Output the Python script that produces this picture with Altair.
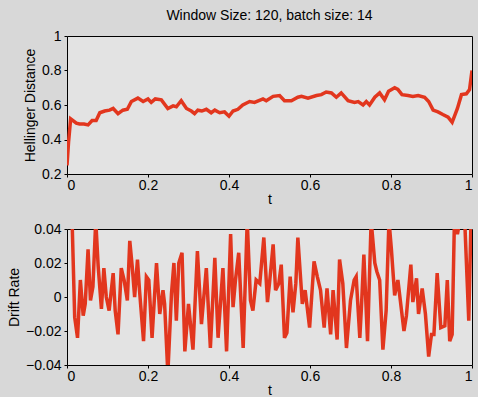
import altair as alt
import pandas as pd

# Top panel: Hellinger distance
h_t = [0, 0.004, 0.009, 0.015, 0.023, 0.031, 0.042, 0.052, 0.062, 0.072, 0.081, 0.093,
       0.105, 0.114, 0.126, 0.138, 0.149, 0.159, 0.175, 0.188, 0.2, 0.208, 0.218, 0.233,
       0.249, 0.262, 0.270, 0.282, 0.295, 0.307, 0.315, 0.323, 0.333, 0.344, 0.356, 0.365,
       0.377, 0.389, 0.4, 0.410, 0.422, 0.434, 0.451, 0.463, 0.484, 0.492, 0.509, 0.525,
       0.537, 0.554, 0.570, 0.579, 0.595, 0.616, 0.628, 0.640, 0.653, 0.665, 0.677, 0.694,
       0.710, 0.719, 0.731, 0.739, 0.747, 0.760, 0.772, 0.784, 0.794, 0.809, 0.817, 0.827,
       0.842, 0.854, 0.867, 0.883, 0.893, 0.904, 0.916, 0.928, 0.941, 0.951, 0.964, 0.974,
       0.986, 0.994, 1.0]
h_v = [0.25, 0.39, 0.52, 0.51, 0.495, 0.49, 0.49, 0.485, 0.51, 0.51, 0.555, 0.565,
       0.57, 0.58, 0.55, 0.57, 0.575, 0.62, 0.64, 0.62, 0.635, 0.615, 0.635, 0.63,
       0.58, 0.595, 0.59, 0.625, 0.58, 0.565, 0.55, 0.57, 0.565, 0.575, 0.555, 0.57,
       0.555, 0.56, 0.535, 0.565, 0.575, 0.60, 0.62, 0.615, 0.635, 0.625, 0.65, 0.655,
       0.625, 0.625, 0.645, 0.65, 0.64, 0.655, 0.66, 0.675, 0.67, 0.645, 0.67, 0.625,
       0.615, 0.62, 0.60, 0.62, 0.60, 0.645, 0.67, 0.63, 0.68, 0.70, 0.69, 0.66,
       0.655, 0.65, 0.655, 0.645, 0.62, 0.57, 0.56, 0.545, 0.53, 0.50, 0.58, 0.66,
       0.665, 0.69, 0.80]

# Bottom panel: drift rate
d_t = [0.012, 0.019, 0.026, 0.033, 0.040, 0.045, 0.052, 0.058, 0.064, 0.071, 0.077, 0.085,
       0.091, 0.097, 0.104, 0.114, 0.119, 0.126, 0.134, 0.141, 0.149, 0.155, 0.161, 0.167,
       0.174, 0.179, 0.189, 0.196, 0.202, 0.210, 0.221, 0.229, 0.237, 0.241, 0.249, 0.258,
       0.264, 0.270, 0.276, 0.284, 0.291, 0.300, 0.311, 0.322, 0.332, 0.344, 0.354, 0.365,
       0.373, 0.385, 0.394, 0.404, 0.410, 0.416, 0.424, 0.435, 0.445, 0.453, 0.459, 0.467,
       0.476, 0.486, 0.495, 0.500, 0.509, 0.515, 0.523, 0.529, 0.537, 0.543, 0.551, 0.558,
       0.565, 0.570, 0.581, 0.588, 0.599, 0.610, 0.618, 0.626, 0.635, 0.642, 0.651, 0.657,
       0.667, 0.673, 0.681, 0.690, 0.700, 0.709, 0.714, 0.723, 0.727, 0.733, 0.742, 0.751,
       0.760, 0.765, 0.772, 0.780, 0.788, 0.795, 0.801, 0.809, 0.817, 0.826, 0.832, 0.838,
       0.849, 0.854, 0.863, 0.868, 0.877, 0.885, 0.893, 0.900, 0.906, 0.914, 0.923, 0.933,
       0.939, 0.945, 0.951, 0.957, 0.964, 0.974, 0.982, 0.992, 0.998]
d_v = [0.05, -0.012, -0.024, 0.01, -0.011, -0.004, 0.028, -0.002, 0.006, 0.045, 0.018, -0.007,
       0.017, 0, -0.008, 0.014, -0.008, -0.022, 0.017, 0.01, -0.002, 0.033, 0.018, 0,
       0.022, 0.004, -0.026, 0.012, 0.01, -0.024, 0.02, -0.01, 0.004, -0.004, -0.045, 0.002,
       0.02, -0.014, 0.02, 0.026, -0.032, -0.004, -0.031, 0.027, -0.016, 0.017, -0.03, 0.023,
       -0.024, 0.017, -0.032, 0.037, -0.006, 0.01, 0.026, -0.03, 0.045, -0.002, -0.008, 0.01,
       0.008, 0.035, -0.003, 0.008, 0.031, 0.004, 0.008, 0.019, -0.024, -0.021, 0.012, -0.009,
       0.008, 0.035, -0.004, 0.004, -0.018, 0.021, 0.012, 0.004, -0.018, 0.005, -0.022, 0.004,
       -0.025, 0.022, 0.008, -0.03, -0.002, 0.01, 0.012, -0.024, -0.006, 0.025, -0.026, 0.045,
       0.02, 0.015, 0.01, -0.031, -0.008, 0.045, 0.028, 0.001, 0.01, -0.008, -0.02, -0.011,
       0.019, -0.003, 0.011, -0.01, 0.005, -0.01, -0.035, -0.022, -0.022, 0.014, -0.018, -0.017,
       0.01, -0.026, -0.022, 0.05, 0.037, 0.05, 0.045, -0.014, 0.05]

title_text = "Window Size: 120, batch size: 14"
x_ticks = [0, 0.2, 0.4, 0.6, 0.8, 1]
h_ticks = [0.2, 0.4, 0.6, 0.8, 1]
d_ticks = [-0.04, -0.02, 0, 0.02, 0.04]

df_h = pd.DataFrame({"t": h_t, "v": h_v})
df_d = pd.DataFrame({"t": d_t, "v": d_v})

LINE = "#e2361e"


def x_axis():
    return alt.Axis(values=x_ticks, format="~g", title="t", labelPadding=1, titlePadding=0)


top = alt.Chart(df_h, title=alt.TitleParams(title_text, fontSize=14, fontWeight="normal",
                                            font="Liberation Sans", color="black", offset=6)).mark_line(
    color=LINE, strokeWidth=3.5, clip=True
).encode(
    x=alt.X("t:Q", scale=alt.Scale(domain=[0, 1], nice=False), axis=x_axis()),
    y=alt.Y("v:Q", scale=alt.Scale(domain=[0.2, 1], nice=False),
            axis=alt.Axis(values=h_ticks, format="~g", title="Hellinger Distance")),
).properties(width=405, height=138)

bottom = alt.Chart(df_d).mark_line(
    color=LINE, strokeWidth=3.5, clip=True
).encode(
    x=alt.X("t:Q", scale=alt.Scale(domain=[0, 1], nice=False), axis=x_axis()),
    y=alt.Y("v:Q", scale=alt.Scale(domain=[-0.04, 0.04], nice=False),
            axis=alt.Axis(values=d_ticks, format="~g", title="Drift Rate")),
).properties(width=405, height=136)

chart = alt.vconcat(top, bottom, spacing=14).properties(
    background="#d8d8d8",
    padding={"left": 7, "top": 8, "right": 5, "bottom": 0},
).configure_view(
    fill="#e3e3e3", stroke="black", strokeWidth=1
).configure_axis(
    grid=False, domain=False, ticks=True, tickSize=3, tickColor="black",
    labelFont="Liberation Sans", labelFontSize=14, labelColor="black", labelPadding=3,
    titleFont="Liberation Sans", titleFontSize=14, titleFontWeight="normal", titleColor="black",
    titlePadding=4
)

chart.save("out.html", embed_options={"renderer": "svg", "actions": False})
